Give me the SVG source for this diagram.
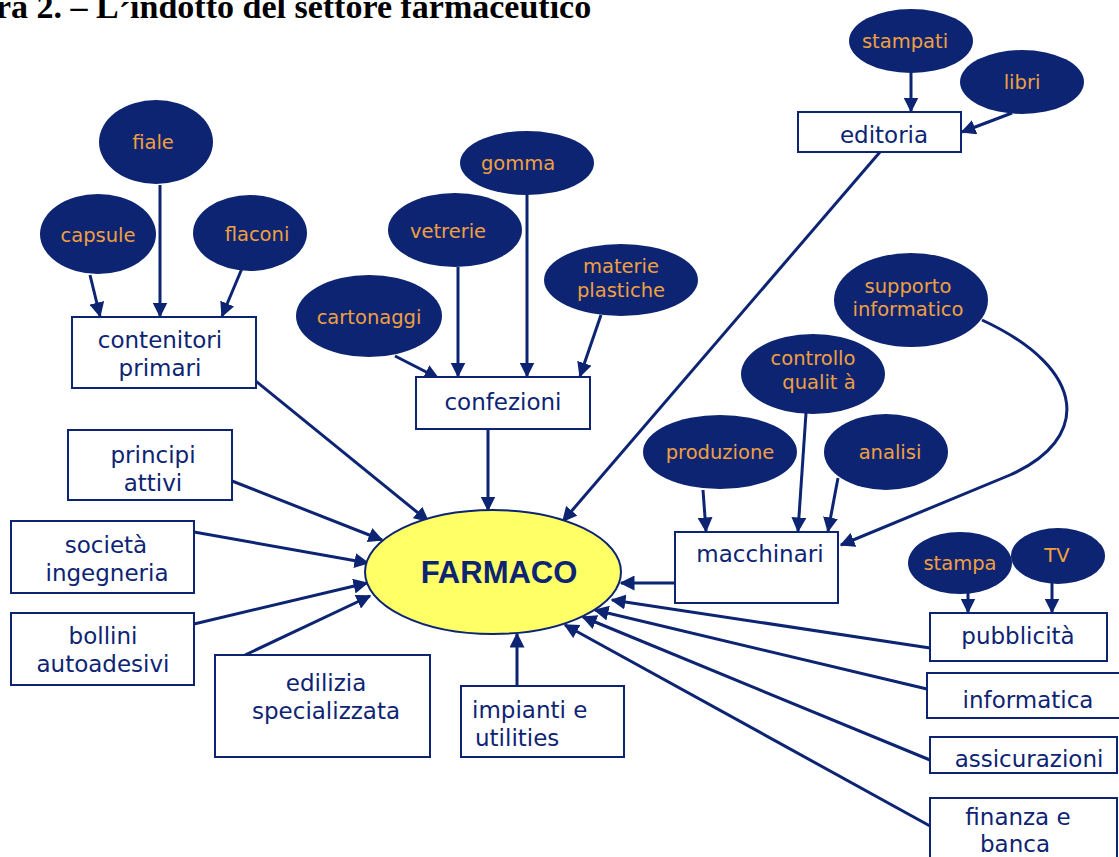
<svg xmlns="http://www.w3.org/2000/svg" width="1119" height="857" viewBox="0 0 1119 857">
<style>
.title{font-family:"Liberation Serif",serif;font-weight:bold;font-size:34px;fill:#000}
.sub ellipse{fill:#0D2473}
.sub text{font-family:"DejaVu Sans",Verdana,sans-serif;font-size:19.5px;fill:#F0A040;text-anchor:middle;dominant-baseline:central}
.box rect{fill:#fff;stroke:#0D2473;stroke-width:2}
.box text{font-family:"DejaVu Sans",Verdana,sans-serif;font-size:23px;fill:#0D2473;text-anchor:middle;dominant-baseline:central}
.conn path{fill:none;stroke:#0D2473;stroke-width:3;marker-end:url(#ah)}
</style>
<defs>
<marker id="ah" viewBox="0 0 10 10" refX="9" refY="5" markerWidth="5" markerHeight="5" orient="auto" markerUnits="strokeWidth">
<path d="M0,0 L10,5 L0,10 z" fill="#0D2473"/>
</marker>
</defs>
<rect width="1119" height="857" fill="#fff"/>
<text class="title" x="-4" y="18">ra 2. – L<tspan dy="8">´</tspan><tspan dy="-8">indotto del settore farmaceutico</tspan></text>

<g class="conn" id="connectors">
<path d="M911,73 L911,111"/>
<path d="M1012,113 L962,132"/>
<path d="M880,152 L563,521"/>
<path d="M160,185 L160,316"/>
<path d="M90,275 L100,316"/>
<path d="M243,266 L222,316"/>
<path d="M252,378 L428,521"/>
<path d="M527,195 L527,376"/>
<path d="M458,267 L458,376"/>
<path d="M601,315 L580,376"/>
<path d="M395,356 L438,378"/>
<path d="M488,429 L488,510"/>
<path d="M232,481 L382,540"/>
<path d="M194,532 L368,563"/>
<path d="M194,624 L367,583"/>
<path d="M245,655 L370,596"/>
<path d="M517,686 L517,634"/>
<path d="M675,583 L621,583"/>
<path d="M703,490 L706,531"/>
<path d="M806,413 L798,531"/>
<path d="M838,478 L828,531"/>
<path d="M982,320 C1090,370 1090,440 1010,475 L841,545"/>
<path d="M968,593 L968,612"/>
<path d="M1052,583 L1052,612"/>
<path d="M930,648 L612,600"/>
<path d="M927,689 L595,610"/>
<path d="M930,760 L583,617"/>
<path d="M930,826 L565,625"/>
</g>

<g id="farmaco">
<ellipse cx="493" cy="572" rx="128" ry="62" fill="#FFFF66" stroke="#0D2473" stroke-width="2"/>
<text x="499" y="572" font-family="Liberation Sans,Arial,sans-serif" font-weight="bold" font-size="31" fill="#0D2473" text-anchor="middle" dominant-baseline="central">FARMACO</text>
</g>

<g class="sub" id="stampati"><ellipse cx="911" cy="41" rx="62" ry="32"/><text x="905" y="41">stampati</text></g>
<g class="sub" id="libri"><ellipse cx="1022" cy="82" rx="62" ry="32"/><text x="1022" y="82">libri</text></g>
<g class="sub" id="fiale"><ellipse cx="156" cy="142" rx="57" ry="42"/><text x="153" y="142">fiale</text></g>
<g class="sub" id="capsule"><ellipse cx="98" cy="234" rx="58" ry="40"/><text x="98" y="235">capsule</text></g>
<g class="sub" id="flaconi"><ellipse cx="250" cy="233" rx="57" ry="38"/><text x="257" y="234">flaconi</text></g>
<g class="sub" id="gomma"><ellipse cx="527" cy="163" rx="67" ry="32"/><text x="518" y="163">gomma</text></g>
<g class="sub" id="vetrerie"><ellipse cx="455" cy="230" rx="67" ry="37"/><text x="448" y="231">vetrerie</text></g>
<g class="sub" id="materie"><ellipse cx="621" cy="280" rx="77" ry="36"/><text x="621" y="266">materie</text><text x="621" y="290">plastiche</text></g>
<g class="sub" id="cartonaggi"><ellipse cx="369" cy="316" rx="73" ry="41"/><text x="369" y="317">cartonaggi</text></g>
<g class="sub" id="supporto"><ellipse cx="911" cy="300" rx="77" ry="47"/><text x="908" y="286">supporto</text><text x="908" y="309">informatico</text></g>
<g class="sub" id="controllo"><ellipse cx="813" cy="374" rx="72" ry="40"/><text x="813" y="358">controllo</text><text x="819" y="382">qualit à</text></g>
<g class="sub" id="produzione"><ellipse cx="720" cy="452" rx="77" ry="37"/><text x="720" y="452">produzione</text></g>
<g class="sub" id="analisi"><ellipse cx="886" cy="452" rx="62" ry="38"/><text x="890" y="452">analisi</text></g>
<g class="sub" id="stampa"><ellipse cx="960" cy="563" rx="52" ry="31"/><text x="960" y="563">stampa</text></g>
<g class="sub" id="tv"><ellipse cx="1058" cy="556" rx="47" ry="28"/><text x="1057" y="555">TV</text></g>

<g class="box" id="editoria"><rect x="798" y="112" width="163" height="40"/><text x="884" y="135">editoria</text></g>
<g class="box" id="contenitori"><rect x="72" y="317" width="184" height="71"/><text x="160" y="340">contenitori</text><text x="160" y="368">primari</text></g>
<g class="box" id="confezioni"><rect x="416" y="377" width="174" height="52"/><text x="503" y="402">confezioni</text></g>
<g class="box" id="principi"><rect x="68" y="430" width="164" height="70"/><text x="153" y="455">principi</text><text x="153" y="483">attivi</text></g>
<g class="box" id="societa"><rect x="11" y="521" width="183" height="72"/><text x="106" y="545">società</text><text x="107" y="573">ingegneria</text></g>
<g class="box" id="bollini"><rect x="11" y="613" width="183" height="72"/><text x="103" y="636">bollini</text><text x="103" y="664">autoadesivi</text></g>
<g class="box" id="edilizia"><rect x="215" y="655" width="215" height="102"/><text x="326" y="683">edilizia</text><text x="326" y="711">specializzata</text></g>
<g class="box" id="impianti"><rect x="461" y="686" width="163" height="71"/><text x="472" y="710" style="text-anchor:start">impianti e</text><text x="475" y="738" style="text-anchor:start">utilities</text></g>
<g class="box" id="macchinari"><rect x="675" y="532" width="163" height="71"/><text x="760" y="554">macchinari</text></g>
<g class="box" id="pubblicita"><rect x="930" y="613" width="177" height="48"/><text x="1018" y="636">pubblicità</text></g>
<g class="box" id="informatica"><rect x="927" y="673" width="193" height="45"/><text x="1028" y="700">informatica</text></g>
<g class="box" id="assicurazioni"><rect x="930" y="737" width="187" height="36"/><text x="1029" y="759">assicurazioni</text></g>
<g class="box" id="finanza"><rect x="930" y="798" width="187" height="62"/><text x="1018" y="817">finanza e</text><text x="1015" y="844">banca</text></g>
</svg>
